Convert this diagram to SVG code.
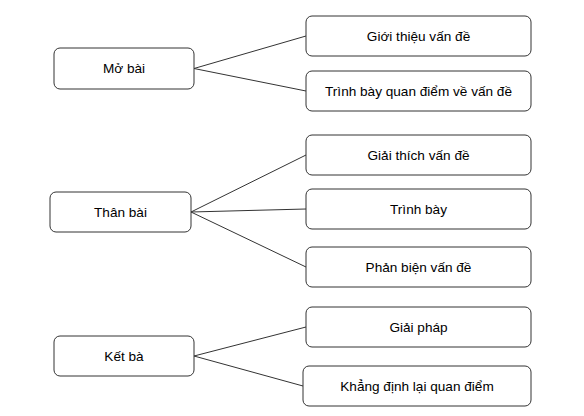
<svg xmlns="http://www.w3.org/2000/svg" width="584" height="416" viewBox="0 0 584 416">
<style>
.box{fill:#fff;stroke:#333;stroke-width:1}
.lbl{font-family:"Liberation Sans",Arial,sans-serif;font-size:13.6px;fill:#000;text-anchor:middle;dominant-baseline:central}
.con line{stroke:#333;stroke-width:1}
</style>
<rect width="584" height="416" fill="#fff"/>
<g class="con">
<line x1="194" y1="68.5" x2="306" y2="36"/>
<line x1="194" y1="68.5" x2="306" y2="91"/>
<line x1="191" y1="212" x2="306" y2="155"/>
<line x1="191" y1="212" x2="306" y2="209"/>
<line x1="191" y1="212" x2="306" y2="267"/>
<line x1="194" y1="356" x2="306" y2="327"/>
<line x1="194" y1="356" x2="303" y2="386"/>
</g>
<g id="mo-bai"><rect class="box" x="54" y="48" width="140" height="41" rx="6"/><text class="lbl" x="124" y="68.5">Mở bài</text></g>
<g id="gioi-thieu"><rect class="box" x="306" y="16" width="225" height="40" rx="6"/><text class="lbl" x="418.5" y="36">Giới thiệu vấn đề</text></g>
<g id="trinh-bay-qd"><rect class="box" x="306" y="71" width="225" height="40" rx="6"/><text class="lbl" x="418.5" y="91">Trình bày quan điểm về vấn đề</text></g>
<g id="than-bai"><rect class="box" x="50" y="192" width="141" height="40" rx="6"/><text class="lbl" x="120.5" y="212">Thân bài</text></g>
<g id="giai-thich"><rect class="box" x="306" y="135" width="225" height="40" rx="6"/><text class="lbl" x="418.5" y="155">Giải thích vấn đề</text></g>
<g id="trinh-bay"><rect class="box" x="306" y="189" width="225" height="40" rx="6"/><text class="lbl" x="418.5" y="209">Trình bày</text></g>
<g id="phan-bien"><rect class="box" x="306" y="247" width="225" height="40" rx="6"/><text class="lbl" x="418.5" y="267">Phản biện vấn đề</text></g>
<g id="ket-ba"><rect class="box" x="54" y="336" width="140" height="40" rx="6"/><text class="lbl" x="124" y="356">Kết bà</text></g>
<g id="giai-phap"><rect class="box" x="306" y="307" width="225" height="40" rx="6"/><text class="lbl" x="418.5" y="327">Giải pháp</text></g>
<g id="khang-dinh"><rect class="box" x="303" y="366" width="228" height="40" rx="6"/><text class="lbl" x="417" y="386">Khẳng định lại quan điểm</text></g>
</svg>
